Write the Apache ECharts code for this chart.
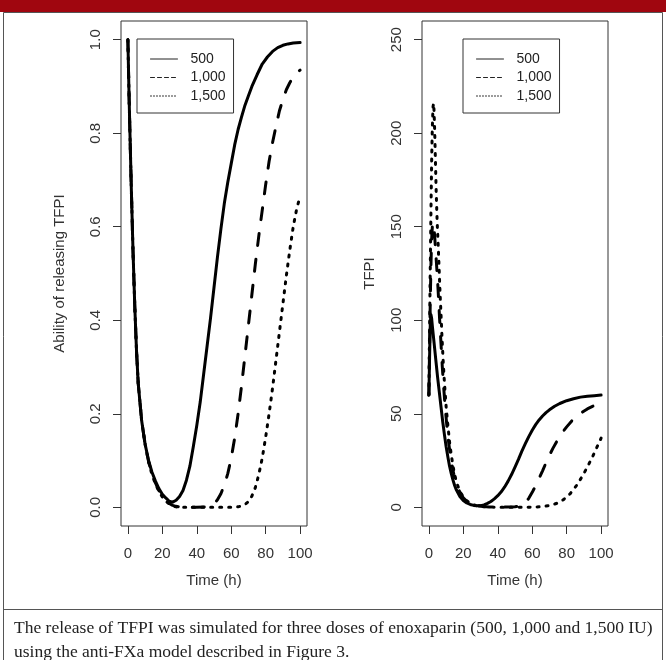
<!DOCTYPE html>
<html><head><meta charset="utf-8">
<script src="https://cdn.jsdelivr.net/npm/echarts@6/dist/echarts.min.js"></script>
<style>html,body{margin:0;padding:0;background:#fff}#c{width:666px;height:660px}</style>
</head><body><div id="c"></div><script>
// ---- data ----
const timeTicks = [0, 20, 40, 60, 80, 100];
const abilityTicks = [0, 0.2, 0.4, 0.6, 0.8, 1.0];
const tfpiTicks = [0, 50, 100, 150, 200, 250];
const doseNames = ['500', '1,000', '1,500'];

const abilityT500 = [0,0.5,1,1.5,2,3,4,5,6,8,10,12,14,16,18,20,22,24,25,26,28,30,32,34,36,38,40,42,44,46,48,50,52,54,56,58,60,62,64,66,68,70,72,75,78,81,84,87,90,93,96,100];
const ability500 = [1.0,0.91,0.83,0.755,0.68,0.545,0.43,0.335,0.265,0.185,0.135,0.1,0.075,0.056,0.04,0.028,0.02,0.013,0.011,0.011,0.015,0.023,0.036,0.058,0.088,0.13,0.175,0.225,0.285,0.345,0.405,0.47,0.535,0.595,0.65,0.695,0.735,0.775,0.808,0.835,0.86,0.88,0.9,0.925,0.948,0.963,0.975,0.983,0.988,0.991,0.993,0.994];

const abilityT1000 = [0,0.5,1,1.5,2,3,4,5,6,8,10,12,14,16,18,20,22,24,26,28,30,35,40,45,48,50,52,54,56,58,60,62,64,66,68,70,72,74,76,78,80,82,84,86,88,90,92,94,96,98,100];
const ability1000 = [1.0,0.91,0.83,0.755,0.68,0.545,0.43,0.335,0.265,0.185,0.135,0.098,0.072,0.052,0.036,0.024,0.015,0.008,0.004,0.002,0.001,0,0,0.001,0.004,0.008,0.016,0.029,0.048,0.072,0.105,0.148,0.2,0.26,0.325,0.39,0.455,0.52,0.58,0.635,0.69,0.74,0.78,0.815,0.848,0.872,0.893,0.908,0.92,0.929,0.935];

const abilityT1500 = [0,0.5,1,1.5,2,3,4,5,6,8,10,12,14,16,18,20,22,24,26,28,30,40,50,60,64,66,68,70,72,74,76,78,80,82,84,86,88,90,92,94,96,98,100];
const ability1500 = [1.0,0.91,0.83,0.755,0.68,0.545,0.43,0.335,0.265,0.185,0.135,0.097,0.07,0.05,0.034,0.022,0.013,0.007,0.003,0.001,0,0,0,0,0.001,0.003,0.006,0.012,0.024,0.042,0.07,0.105,0.15,0.2,0.255,0.315,0.375,0.435,0.495,0.55,0.6,0.638,0.665];

const tfpiT500 = [0,0.4,0.8,1.2,1.6,2,3,4,5,6,7,8,9,10,11,12,13,14,15,16,18,20,22,24,26,28,30,32,34,36,38,40,42,44,46,48,50,52,54,56,58,60,62,64,66,68,70,73,76,80,84,88,92,96,100];
const tfpi500 = [60,80,98,103,101,97,88,79,70,62,54,46,39,32.5,27,22,18,14.5,11.5,9.2,5.8,3.6,2.3,1.5,1.0,0.8,0.9,1.3,2.1,3.1,4.5,6.2,8.3,10.9,14,17.5,21.5,25.6,30,34,37.8,41.2,44.2,46.7,48.8,50.6,52.1,54,55.5,57,58,58.9,59.4,59.7,60];

const tfpiT1000 = [0,0.4,0.8,1.2,1.6,2,2.5,3,3.5,4,4.5,5,5.6,6.2,7,7.8,8.6,9.5,10.5,11.5,12.5,13.5,14.5,16,18,20,22,24,27,30,35,40,45,50,52,54,56,58,60,62,64,66,68,70,72,74,76,78,80,83,86,89,92,95,98,100];
const tfpi1000 = [60,85,110,130,143,150,152,149,143,136,129,122,112,101,88,75,64,53,43,34.5,27.5,22,17.5,12.5,8,5,3.2,2,1,0.5,0.2,0.1,0.1,0.3,0.6,1.3,2.5,4.8,8,11.5,15.5,19.5,23.8,27.8,31.5,34.8,37.8,40.6,43,46.2,48.8,50.8,52.6,54,55,55.5];

const tfpiT1500 = [0,0.4,0.8,1.2,1.6,2,2.4,2.7,3,3.4,3.8,4.2,4.6,5,5.5,6,6.5,7,7.6,8.3,9,10,11,12,13,14,15,16,18,20,22,24,27,30,40,50,60,65,70,74,78,82,86,89,92,95,98,100];
const tfpi1500 = [60,95,128,158,185,203,214,216,212,200,185,170,158,148,138,126,114,104,91,78,67,54,44,35,28,22,17.5,13.5,8.5,5.5,3.5,2.2,1,0.4,0,0,0.1,0.3,0.9,2,4,7.2,12,16.5,21.5,27,33,37];

const captionLines = [
  'The release of TFPI was simulated for three doses of enoxaparin (500, 1,000 and 1,500 IU)',
  'using the anti-FXa model described in Figure 3.'
];

// ---- chart ----
const pairs = (t, v) => t.map((x, i) => [x, v[i]]);
const SANS = 'Liberation Sans, Arial, sans-serif';
const ink = '#333';
const lineTypes = ['solid', [12, 14], [2, 7]];
const legendTypes = ['solid', [4, 3], [1, 2]];

function mkX(grid) {
  return {
    type: 'value', gridIndex: grid, min: -4, max: 104,
    axisLine: {show: false, onZero: false}, splitLine: {show: false},
    axisTick: {show: true, inside: false, customValues: timeTicks, length: 8, lineStyle: {color: ink}},
    axisLabel: {customValues: timeTicks, margin: 20, fontSize: 15, color: ink, fontFamily: SANS},
    name: 'Time (h)', nameLocation: 'middle', nameGap: 47,
    nameTextStyle: {fontSize: 15, color: ink, fontFamily: SANS}
  };
}
function mkY(grid, min, max, ticks, name, fmt, gap) {
  return {
    type: 'value', gridIndex: grid, min: min, max: max,
    axisLine: {show: false, onZero: false}, splitLine: {show: false},
    axisTick: {show: true, inside: false, customValues: ticks, length: 8, lineStyle: {color: ink}},
    axisLabel: {customValues: ticks, rotate: 90, margin: 18, fontSize: 15, color: ink, fontFamily: SANS, formatter: fmt},
    name: name, nameLocation: 'middle', nameGap: gap, nameRotate: 90,
    nameTextStyle: {fontSize: 15, color: ink, fontFamily: SANS}
  };
}
function mkLegend(left) {
  return {
    left: left, top: 39, orient: 'vertical', selectedMode: false,
    data: doseNames.map((n, i) => ({name: n, lineStyle: {type: legendTypes[i], width: 1, color: '#222'}})),
    itemWidth: 27, itemHeight: 14, itemGap: 4.5,
    padding: [13, 8, 10, 13],
    borderColor: ink, borderWidth: 1,
    itemStyle: {opacity: 0},
    textStyle: {fontSize: 14, color: '#222', fontFamily: SANS, padding: [0, 0, 0, 8]}
  };
}
function mkSeries(name, xi, data, type) {
  return {
    name: name, type: 'line', xAxisIndex: xi, yAxisIndex: xi, data: data,
    symbol: 'none', smooth: false, animation: false,
    lineStyle: {color: '#000', width: 3, type: type, cap: 'round', join: 'round'}
  };
}

const chart = echarts.init(document.getElementById('c'), null, {renderer: 'canvas'});
chart.setOption({
  animation: false,
  backgroundColor: '#fff',
  grid: [
    {left: 121, top: 21, width: 186, height: 505, show: true, borderColor: ink, borderWidth: 1, backgroundColor: 'transparent'},
    {left: 422, top: 21, width: 186, height: 505, show: true, borderColor: ink, borderWidth: 1, backgroundColor: 'transparent'}
  ],
  xAxis: [mkX(0), mkX(1)],
  yAxis: [
    mkY(0, -0.04, 1.04, abilityTicks, 'Ability of releasing TFPI', v => v.toFixed(1), 54),
    mkY(1, -10, 260, tfpiTicks, 'TFPI', v => String(v), 45)
  ],
  legend: [mkLegend(137), mkLegend(463)],
  series: [
    mkSeries(doseNames[0], 0, pairs(abilityT500, ability500), lineTypes[0]),
    mkSeries(doseNames[1], 0, pairs(abilityT1000, ability1000), lineTypes[1]),
    mkSeries(doseNames[2], 0, pairs(abilityT1500, ability1500), lineTypes[2]),
    mkSeries(doseNames[0], 1, pairs(tfpiT500, tfpi500), lineTypes[0]),
    mkSeries(doseNames[1], 1, pairs(tfpiT1000, tfpi1000), lineTypes[1]),
    mkSeries(doseNames[2], 1, pairs(tfpiT1500, tfpi1500), lineTypes[2])
  ],
  graphic: [
    {type: 'rect', shape: {x: 0, y: 0, width: 666, height: 12}, style: {fill: '#a0060f'}, silent: true},
    {type: 'rect', shape: {x: 3.5, y: 12.5, width: 659, height: 660}, style: {fill: 'none', stroke: '#555', lineWidth: 1}, silent: true},
    {type: 'line', shape: {x1: 3, y1: 609.5, x2: 663, y2: 609.5}, style: {stroke: '#555', lineWidth: 1}, silent: true},
    {type: 'text', x: 14, y: 628, style: {text: captionLines[0], fontSize: 17.5, fontFamily: 'Liberation Serif, serif', fill: '#222', verticalAlign: 'middle'}, silent: true},
    {type: 'text', x: 14, y: 652, style: {text: captionLines[1], fontSize: 17.5, fontFamily: 'Liberation Serif, serif', fill: '#222', verticalAlign: 'middle'}, silent: true}
  ]
});
</script></body></html>
